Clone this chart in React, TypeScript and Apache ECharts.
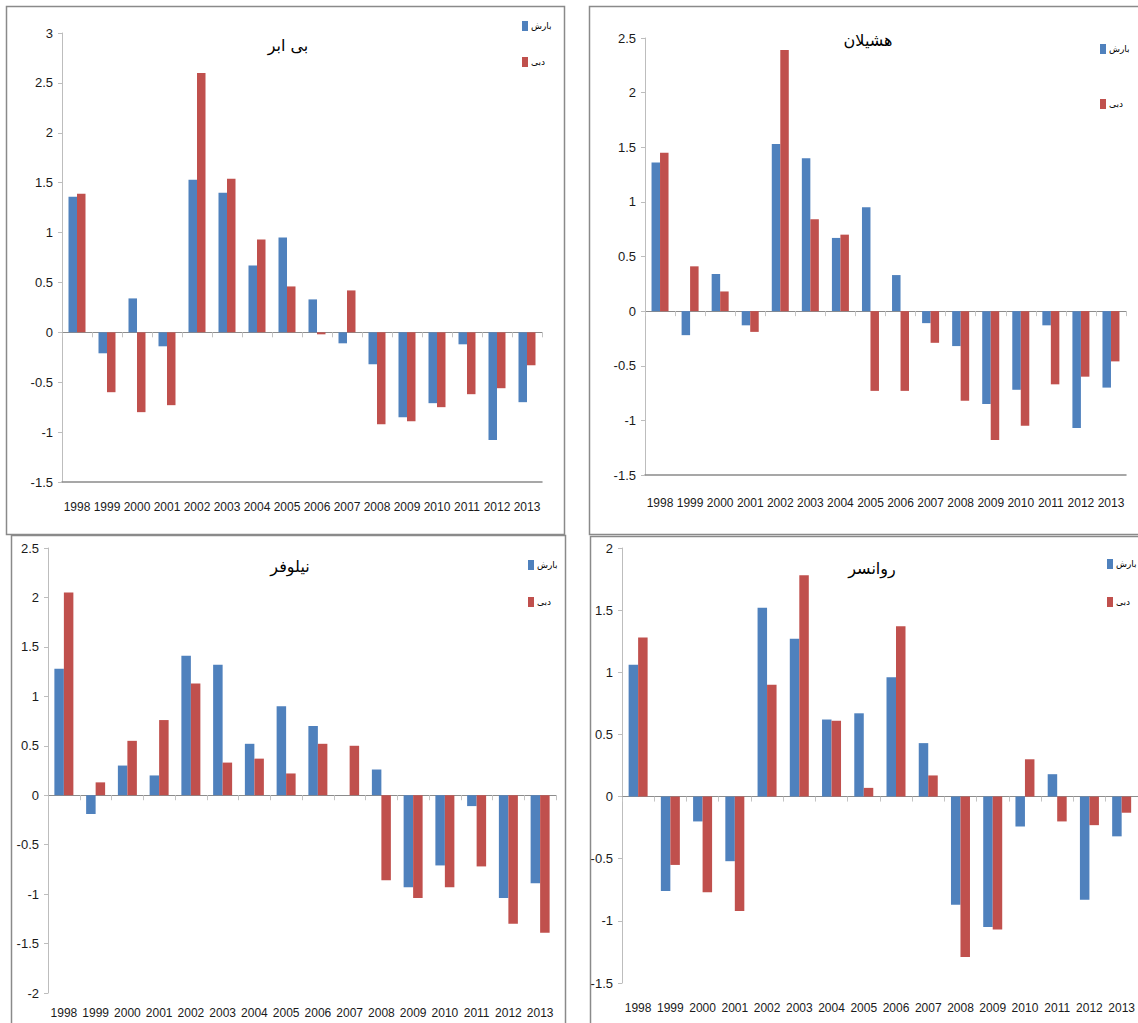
import React, { useEffect, useRef } from "react";
import * as echarts from "echarts";

const years = ["1998", "1999", "2000", "2001", "2002", "2003", "2004", "2005", "2006", "2007", "2008", "2009", "2010", "2011", "2012", "2013"];
const seriesNames = ["بارش", "دبی"];
const titles = ["بی ابر", "هشیلان", "نیلوفر", "روانسر"];

const biAbrRain = [1.36, -0.21, 0.34, -0.14, 1.53, 1.40, 0.67, 0.95, 0.33, -0.11, -0.32, -0.85, -0.71, -0.12, -1.08, -0.70];
const biAbrFlow = [1.39, -0.60, -0.80, -0.73, 2.60, 1.54, 0.93, 0.46, -0.02, 0.42, -0.92, -0.89, -0.75, -0.62, -0.56, -0.33];
const hashilanRain = [1.36, -0.22, 0.34, -0.13, 1.53, 1.40, 0.67, 0.95, 0.33, -0.11, -0.32, -0.85, -0.72, -0.13, -1.07, -0.70];
const hashilanFlow = [1.45, 0.41, 0.18, -0.19, 2.39, 0.84, 0.70, -0.73, -0.73, -0.29, -0.82, -1.18, -1.05, -0.67, -0.60, -0.46];
const niloufarRain = [1.28, -0.19, 0.30, 0.20, 1.41, 1.32, 0.52, 0.90, 0.70, 0, 0.26, -0.93, -0.71, -0.11, -1.04, -0.89];
const niloufarFlow = [2.05, 0.13, 0.55, 0.76, 1.13, 0.33, 0.37, 0.22, 0.52, 0.50, -0.86, -1.04, -0.93, -0.72, -1.30, -1.39];
const ravansarRain = [1.06, -0.76, -0.20, -0.52, 1.52, 1.27, 0.62, 0.67, 0.96, 0.43, -0.87, -1.05, -0.24, 0.18, -0.83, -0.32];
const ravansarFlow = [1.28, -0.55, -0.77, -0.92, 0.90, 1.78, 0.61, 0.07, 1.37, 0.17, -1.29, -1.07, 0.30, -0.20, -0.23, -0.13];

const yMins = [-1.5, -1.5, -2, -1.5];
const yMaxs = [3, 2.5, 2.5, 2];

const rainSets = [biAbrRain, hashilanRain, niloufarRain, ravansarRain];
const flowSets = [biAbrFlow, hashilanFlow, niloufarFlow, ravansarFlow];

const BLUE = "#4F81BD";
const RED = "#C0504D";
const LABEL_FONT = "'Liberation Sans', Arial, sans-serif";
const ARABIC = "'DejaVu Sans', 'Noto Sans', sans-serif";

// layout (pixels)
const layout = [
  { grid: { left: 62, top: 33, width: 480, height: 449 }, border: { x: 6.5, y: 6.5, width: 558, height: 528 }, title: [288, 45], legend: { left: 522, top: 18, gap: 20 }, barWidth: 8.5, bottomLine: true, labelMargin: 19 },
  { grid: { left: 645, top: 38, width: 481, height: 437 }, border: { x: 589.5, y: 6.5, width: 560, height: 528 }, title: [868, 40], legend: { left: 1100, top: 41, gap: 39 }, barWidth: 8.5, bottomLine: true, labelMargin: 22 },
  { grid: { left: 48, top: 548, width: 508, height: 445 }, border: { x: 11.5, y: 535.5, width: 554, height: 500 }, title: [290, 566], legend: { left: 528, top: 557, gap: 21 }, barWidth: 9.5, bottomLine: false, labelMargin: 14 },
  { grid: { left: 622, top: 548, width: 516, height: 435 }, border: { x: 590.5, y: 536.5, width: 560, height: 500 }, title: [872, 568], legend: { left: 1107, top: 556, gap: 22 }, barWidth: 9.5, bottomLine: false, labelMargin: 19 },
];

function buildOption() {
  const grids: any[] = [];
  const xAxes: any[] = [];
  const yAxes: any[] = [];
  const series: any[] = [];
  const legends: any[] = [];
  const graphics: any[] = [];

  layout.forEach((p, i) => {
    grids.push({ ...p.grid, containLabel: false });
    // label axis at bottom
    xAxes.push({
      type: "category",
      gridIndex: i,
      data: years,
      position: "bottom",
      axisLine: { show: p.bottomLine, onZero: false, lineStyle: { color: "#8a8a8a", width: 1.5 } },
      axisTick: { show: false },
      axisLabel: { show: true, interval: 0, margin: p.labelMargin, fontSize: 12, fontFamily: LABEL_FONT, color: "#1a1a1a" },
      splitLine: { show: false },
    });
    // zero line axis
    xAxes.push({
      type: "category",
      gridIndex: i,
      data: years,
      position: "bottom",
      axisLine: { show: true, onZero: true, lineStyle: { color: "#8c8c8c", width: 1 } },
      axisTick: { show: true, length: 5, alignWithLabel: false, interval: 0, lineStyle: { color: "#c4c4c4" } },
      axisLabel: { show: false },
      splitLine: { show: false },
    });
    yAxes.push({
      type: "value",
      gridIndex: i,
      min: yMins[i],
      max: yMaxs[i],
      interval: 0.5,
      axisLine: { show: true, lineStyle: { color: "#bdbdbd", width: 1 } },
      axisTick: { show: true, length: 4, lineStyle: { color: "#bdbdbd" } },
      axisLabel: { margin: 9, fontSize: 13, fontFamily: LABEL_FONT, color: "#1a1a1a" },
      splitLine: { show: false },
    });
    series.push({
      type: "bar",
      name: seriesNames[0],
      xAxisIndex: i * 2,
      yAxisIndex: i,
      data: rainSets[i],
      barWidth: p.barWidth,
      barGap: "0%",
      itemStyle: { color: BLUE },
    });
    series.push({
      type: "bar",
      name: seriesNames[1],
      xAxisIndex: i * 2,
      yAxisIndex: i,
      data: flowSets[i],
      barWidth: p.barWidth,
      barGap: "0%",
      itemStyle: { color: RED },
    });
    legends.push({
      orient: "vertical",
      left: p.legend.left,
      top: p.legend.top,
      itemGap: p.legend.gap,
      itemWidth: 6,
      itemHeight: 10,
      icon: "rect",
      padding: 0,
      data: seriesNames,
      textStyle: { fontSize: 9, fontFamily: ARABIC, color: "#000", lineHeight: 12, padding: [4, 0, 0, -2] },
      selectedMode: false,
    });
    graphics.push({
      type: "rect",
      shape: { ...p.border },
      style: { fill: "none", stroke: "#8a8a8a", lineWidth: 1.5 },
      z: -1,
      silent: true,
    });
    graphics.push({
      type: "text",
      x: p.title[0],
      y: p.title[1],
      style: { text: titles[i], fontSize: 16, fontWeight: "normal", fontFamily: ARABIC, fill: "#000", textAlign: "center", textVerticalAlign: "middle" },
    });
  });

  return {
    animation: false,
    backgroundColor: "#ffffff",
    grid: grids,
    xAxis: xAxes,
    yAxis: yAxes,
    series,
    legend: legends,
    graphic: graphics,
  };
}

export default function App() {
  const ref = useRef<HTMLDivElement>(null);
  useEffect(() => {
    if (!ref.current) return;
    const chart = echarts.init(ref.current, undefined, { renderer: "svg" });
    chart.setOption(buildOption() as any);
    return () => chart.dispose();
  }, []);
  return (
    <div style={{ position: "absolute", left: 0, top: 0, width: 1138, height: 1023, overflow: "hidden", background: "#fff" }}>
      <div ref={ref} style={{ width: 1138, height: 1023 }} />
    </div>
  );
}
